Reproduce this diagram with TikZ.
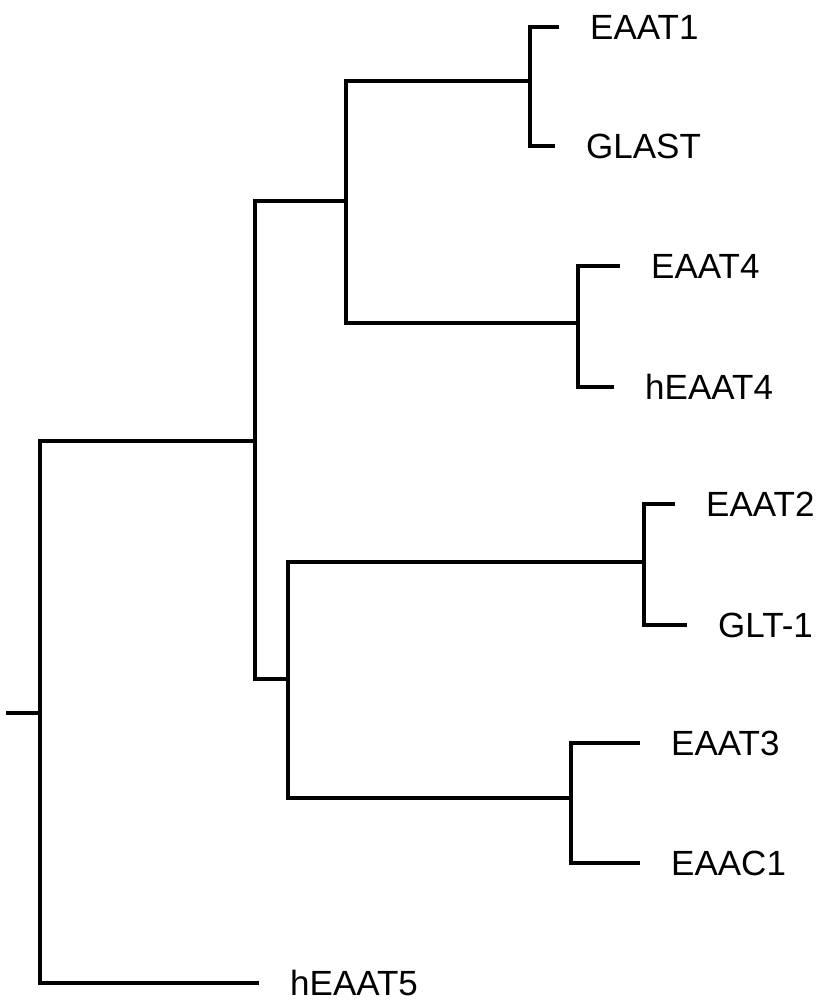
\documentclass[tikz,border=0pt]{standalone}
\usepackage{fontspec}
\setmainfont{Liberation Sans}
\usetikzlibrary{positioning}
\tikzset{
  branch/.style={line width=3.2pt, line cap=rect, line join=miter},
  leaf/.style={inner sep=0pt, font=\fontsize{35}{40}\selectfont},
}
\begin{document}
\begin{tikzpicture}[x=1pt,y=-1pt]
	\useasboundingbox (0,0) rectangle (823,1008);
	% inner nodes of the tree
	\coordinate (r0) at (8,713);
	\coordinate (n0) at (40,713);
	\coordinate (n1) at (255,441);
	\coordinate (n2) at (346,201);
	\coordinate (n3) at (530,81);
	\coordinate (n4) at (578,323);
	\coordinate (n5) at (288,679);
	\coordinate (n6) at (644,562);
	\coordinate (n7) at (571,798);
	% tips
	\coordinate (t1) at (557,27);
	\coordinate (t2) at (553,146);
	\coordinate (t3) at (618,266);
	\coordinate (t4) at (612,387);
	\coordinate (t5) at (673,504);
	\coordinate (t6) at (685,625);
	\coordinate (t7) at (638,743);
	\coordinate (t8) at (638,863);
	\coordinate (t9) at (257,983);
	% labels
	\node[leaf, right=33pt of t1] (eaat1) {EAAT1};
	\node[leaf, right=33pt of t2] (glast) {GLAST};
	\node[leaf, right=33pt of t3] (eaat4) {EAAT4};
	\node[leaf, right=33pt of t4] (heaat4) {hEAAT4};
	\node[leaf, right=33pt of t5] (eaat2) {EAAT2};
	\node[leaf, right=33pt of t6] (glt1) {GLT-1};
	\node[leaf, right=33pt of t7] (eaat3) {EAAT3};
	\node[leaf, right=33pt of t8] (eaac1) {EAAC1};
	\node[leaf, right=33pt of t9] (heaat5) {hEAAT5};
	% branches
	\draw[branch] (r0) -- (n0);
	\draw[branch] (n1) -| (n0) |- (t9);
	\draw[branch] (n2) -| (n1) |- (n5);
	\draw[branch] (n3) -| (n2) |- (n4);
	\draw[branch] (t1) -| (n3) |- (t2);
	\draw[branch] (t3) -| (n4) |- (t4);
	\draw[branch] (n6) -| (n5) |- (n7);
	\draw[branch] (t5) -| (n6) |- (t6);
	\draw[branch] (t7) -| (n7) |- (t8);
\end{tikzpicture}
\end{document}
